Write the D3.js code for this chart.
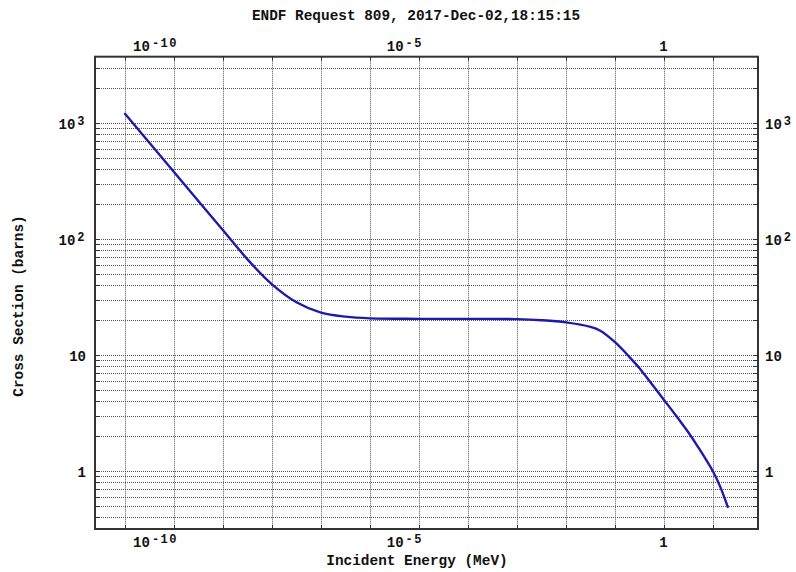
<!DOCTYPE html>
<html>
<head>
<meta charset="utf-8">
<script src="https://cdn.jsdelivr.net/npm/d3@7"></script>
<style>
  html, body { margin: 0; padding: 0; background: #fff; }
  svg { display: block; }
  text { font-family: "Liberation Mono", "DejaVu Sans Mono", monospace; font-weight: bold; fill: #111; }
</style>
</head>
<body>
<svg id="chart" width="796" height="572"></svg>
<script>
// Incident energy (MeV) and cross section (barns)
const energyMeV = [1e-11, 1e-10, 1e-9, 3.16e-9, 1e-8, 3.16e-8, 1e-7, 3.16e-7, 1e-6,
                   1e-5, 1e-4, 1e-3, 3.16e-3, 1e-2, 3.16e-2, 5e-2, 1e-1, 2e-1, 3.16e-1,
                   5e-1, 1, 2, 3, 5, 10, 14, 20];
const crossSection = [1200, 378, 119, 66.8, 40.7, 28.5, 23.2, 21.4, 20.7,
                      20.5, 20.5, 20.4, 19.95, 19.1, 17.45, 16.2, 12.9, 9.55, 7.7,
                      6.0, 4.1, 2.79, 2.21, 1.6, 0.99, 0.733, 0.49];

// Axis tick labels: [value, base, exponent]
const xTickLabels = [[1e-10, "10", "-10"], [1e-5, "10", "-5"], [1, "1", ""]];
const yTickLabels = [[1, "1", ""], [10, "10", ""], [100, "10", "2"], [1000, "10", "3"]];

const titleText = "ENDF Request 809, 2017-Dec-02,18:15:15";
const xTitle = "Incident Energy (MeV)";
const yTitle = "Cross Section (barns)";

const svg = d3.select("#chart");
const L = 95, R = 758, T = 56.7, B = 529;

const x = d3.scaleLog().domain([Math.pow(10, -11.612), Math.pow(10, 1.918)]).range([L, R]);
const y = d3.scaleLog().domain([Math.pow(10, -0.5), Math.pow(10, 3.5716)]).range([B, T]);

const grid = svg.append("g");

// horizontal grid: 1..9 x 10^k
const yGrid = [];
for (let k = -1; k <= 3; k++) for (let m = 1; m <= 9; m++) {
  const v = m * Math.pow(10, k);
  if (v >= y.domain()[0] && v <= y.domain()[1]) yGrid.push(v);
}
grid.selectAll("line.hy").data(yGrid).join("line")
  .attr("x1", L).attr("x2", R)
  .attr("y1", d => Math.round(y(d)) + 0.5).attr("y2", d => Math.round(y(d)) + 0.5)
  .attr("stroke", "#555").attr("stroke-width", 1).attr("stroke-dasharray", "1,1");

// vertical grid: decades
const xGrid = d3.range(-11, 2).map(k => Math.pow(10, k));
grid.selectAll("line.vx").data(xGrid).join("line")
  .attr("y1", T).attr("y2", B)
  .attr("x1", d => Math.round(x(d)) + 0.5).attr("x2", d => Math.round(x(d)) + 0.5)
  .attr("stroke", "#555").attr("stroke-width", 1).attr("stroke-dasharray", "1,1");

// short solid ticks at the frame edges
const ticks = svg.append("g").attr("stroke", "#333").attr("stroke-width", 1);
yGrid.forEach(v => {
  const yy = Math.round(y(v)) + 0.5;
  ticks.append("line").attr("x1", L).attr("x2", L + 5).attr("y1", yy).attr("y2", yy);
  ticks.append("line").attr("x1", R - 5).attr("x2", R).attr("y1", yy).attr("y2", yy);
});
xGrid.forEach(v => {
  const xx = Math.round(x(v)) + 0.5;
  ticks.append("line").attr("x1", xx).attr("x2", xx).attr("y1", T).attr("y2", T + 4);
  ticks.append("line").attr("x1", xx).attr("x2", xx).attr("y1", B - 4).attr("y2", B);
});

// frame
svg.append("rect").attr("x", L).attr("y", T).attr("width", R - L).attr("height", B - T)
  .attr("fill", "none").attr("stroke", "#333").attr("stroke-width", 2);

// curve
const data = energyMeV.map((e, i) => [e, crossSection[i]]);
svg.append("path").datum(data)
  .attr("fill", "none").attr("stroke", "#1c1ca8").attr("stroke-width", 2.4)
  .attr("stroke-linejoin", "round").attr("stroke-linecap", "round")
  .attr("d", d3.line().x(d => x(d[0])).y(d => y(d[1])).curve(d3.curveCatmullRom.alpha(0.5)));

// tick label helper
function label(g, xx, yy, anchor, base, exp) {
  const t = g.append("text").attr("x", xx).attr("y", yy).attr("text-anchor", anchor)
    .style("font-size", "14px");
  t.append("tspan").text(base);
  if (exp) t.append("tspan").attr("dy", -4).attr("dx", 2).style("font-size", "12px")
    .style("letter-spacing", "1.5px").text(exp);
}

const labels = svg.append("g");
xTickLabels.forEach(([v, b, e]) => {
  const xx = x(v);
  const anchor = e ? "end" : "middle";
  const px = e ? xx + 4 : xx - 0.5;
  label(labels, px, 51, anchor, b, e);
  label(labels, px, 547, anchor, b, e);
});
yTickLabels.forEach(([v, b, e]) => {
  const yy = y(v) + 6;
  label(labels, 86, yy, "end", b, e);
  label(labels, 765, yy, "start", b, e);
});

// titles
svg.append("text").attr("x", 416).attr("y", 20).attr("text-anchor", "middle")
  .style("font-size", "14.4px").text(titleText);
svg.append("text").attr("x", 417).attr("y", 565).attr("text-anchor", "middle")
  .style("font-size", "14.4px").text(xTitle);
svg.append("text").attr("transform", "translate(23,306) rotate(-90)").attr("text-anchor", "middle")
  .style("font-size", "14.4px").text(yTitle);
</script>
</body>
</html>
